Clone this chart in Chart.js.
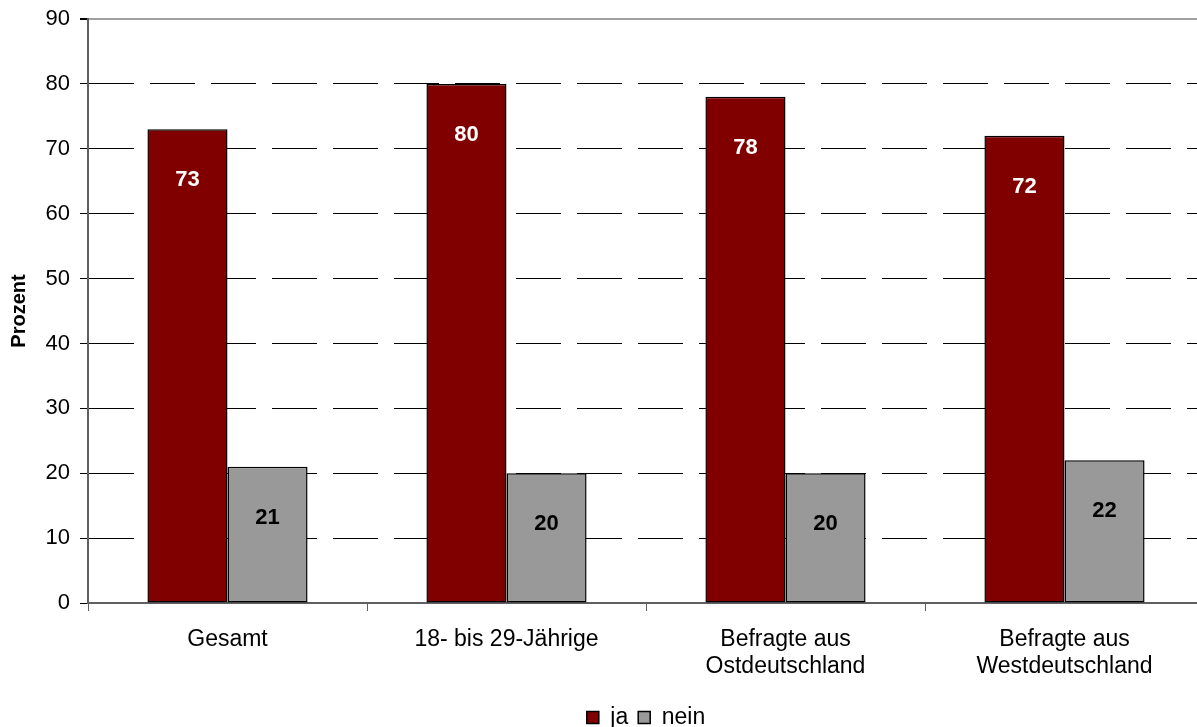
<!DOCTYPE html>
<html lang="de">
<head>
    <meta charset="UTF-8">
    <title>Prozent ja / nein</title>
    <script src="https://cdn.jsdelivr.net/npm/chart.js"></script>
    <style>
        html, body { margin: 0; padding: 0; background: white; overflow: hidden; }
        #wrap { width: 1204px; height: 727px; }
    </style>
</head>
<body>
    <div id="wrap"><canvas id="chart" width="1204" height="727"></canvas></div>
    <script>
        // Daten
        const categories = ['Gesamt', '18- bis 29-Jährige', ['Befragte aus', 'Ostdeutschland'], ['Befragte aus', 'Westdeutschland']];
        const jaValues = [73, 80, 78, 72];
        const neinValues = [21, 20, 20, 22];
        const seriesNames = ['ja', 'nein'];

        const FONT = 'Arial, "Liberation Sans", sans-serif';

        // Werte in die Balken schreiben
        const valueLabels = {
            id: 'valueLabels',
            afterDatasetsDraw(chart) {
                const ctx = chart.ctx;
                ctx.save();
                ctx.font = 'bold 22px ' + FONT;
                ctx.textAlign = 'center';
                ctx.textBaseline = 'middle';
                chart.data.datasets.forEach((ds, i) => {
                    const meta = chart.getDatasetMeta(i);
                    ctx.fillStyle = i === 0 ? '#ffffff' : '#000000';
                    meta.data.forEach((bar, j) => {
                        ctx.fillText(ds.data[j], bar.x, bar.y + 51);
                    });
                });
                ctx.restore();
            }
        };

        new Chart(document.getElementById('chart').getContext('2d'), {
            type: 'bar',
            data: {
                labels: categories,
                datasets: [{
                    label: seriesNames[0],
                    data: jaValues,
                    backgroundColor: '#800000',
                    borderColor: '#000000',
                    borderWidth: 1.5,
                    borderSkipped: false
                }, {
                    label: seriesNames[1],
                    data: neinValues,
                    backgroundColor: '#999999',
                    borderColor: '#000000',
                    borderWidth: 1.5,
                    borderSkipped: false
                }]
            },
            options: {
                responsive: false,
                animation: false,
                layout: { padding: { top: 19, left: 0, right: 0, bottom: -12 } },
                datasets: {
                    bar: { barPercentage: 1, categoryPercentage: 0.574 }
                },
                plugins: {
                    legend: {
                        position: 'bottom',
                        fullSize: false,
                        labels: {
                            color: '#000',
                            font: { family: FONT, size: 23 },
                            boxWidth: 12,
                            boxHeight: 12,
                            padding: 10
                        }
                    },
                    tooltip: { enabled: false }
                },
                scales: {
                    x: {
                        afterFit: (scale) => { scale.height = 93; },
                        grid: {
                            offset: true,
                            drawOnChartArea: false,
                            color: '#606060',
                            tickLength: 8
                        },
                        border: { color: '#606060', width: 2 },
                        ticks: {
                            color: '#000',
                            font: { family: FONT, size: 23, lineHeight: 1.17 },
                            padding: 15,
                            maxRotation: 0
                        }
                    },
                    y: {
                        min: 0,
                        max: 90,
                        afterFit: (scale) => {
                            scale.width = 88;
                            scale.paddingTop = 0;
                            scale.paddingBottom = 0;
                        },
                        ticks: {
                            stepSize: 10,
                            color: '#000',
                            font: { family: FONT, size: 22 },
                            padding: 10
                        },
                        grid: {
                            tickLength: 8,
                            tickColor: '#000',
                            lineWidth: (c) => c.tick && c.tick.value === 90 ? 2 : 1,
                            color: (c) => {
                                if (!c.tick) return '#000';
                                if (c.tick.value === 90) return '#a0a0a0';
                                if (c.tick.value === 0) return '#606060';
                                return '#000';
                            }
                        },
                        border: {
                            color: '#606060',
                            width: 2,
                            dash: (c) => c.tick && (c.tick.value === 90 || c.tick.value === 0) ? [] : [45, 16]
                        },
                        title: {
                            display: true,
                            text: 'Prozent',
                            color: '#000',
                            font: { family: FONT, size: 20, weight: 'bold' },
                            padding: { top: 7, bottom: 0 }
                        }
                    }
                }
            },
            plugins: [valueLabels]
        });
    </script>
</body>
</html>
